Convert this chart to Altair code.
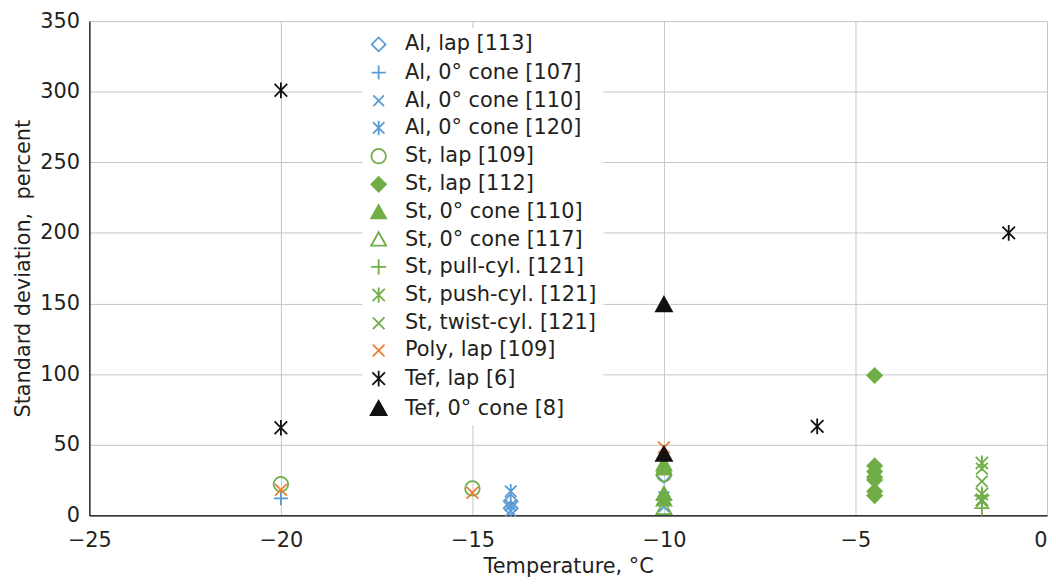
import altair as alt
import pandas as pd

series_names = [
    "Al, lap [113]", "Al, 0° cone [107]", "Al, 0° cone [110]", "Al, 0° cone [120]",
    "St, lap [109]", "St, lap [112]", "St, 0° cone [110]", "St, 0° cone [117]",
    "St, pull-cyl. [121]", "St, push-cyl. [121]", "St, twist-cyl. [121]",
    "Poly, lap [109]", "Tef, lap [6]", "Tef, 0° cone [8]",
]

al_lap_113_t = [-14, -14, -10]
al_lap_113_v = [10, 5, 28]
al_cone_107_t = [-20]
al_cone_107_v = [12]
al_cone_110_t = [-14, -10, -10]
al_cone_110_v = [3, 13, 6]
al_cone_120_t = [-14, -14]
al_cone_120_v = [17, 7]
st_lap_109_t = [-20, -15, -10]
st_lap_109_v = [22, 19, 29]
st_lap_112_t = [-4.5, -4.5, -4.5, -4.5, -4.5, -4.5, -4.5]
st_lap_112_v = [99, 35, 31, 27, 25, 17, 14]
st_cone_110_t = [-10, -10, -10, -10]
st_cone_110_v = [36, 33, 15, 11]
st_cone_117_t = [-10]
st_cone_117_v = [5]
st_pull_t = [-1.7, -1.7]
st_pull_v = [14, 5]
st_push_t = [-1.7, -1.7, -1.7]
st_push_v = [37, 15, 11]
st_twist_t = [-1.7, -1.7, -1.7]
st_twist_v = [33, 24, 10]
poly_lap_t = [-20, -15, -10]
poly_lap_v = [18, 16, 48]
tef_lap_t = [-20, -20, -6, -1]
tef_lap_v = [301, 62, 63, 200]
tef_cone_t = [-10, -10]
tef_cone_v = [149, 43]

all_t = [al_lap_113_t, al_cone_107_t, al_cone_110_t, al_cone_120_t, st_lap_109_t,
         st_lap_112_t, st_cone_110_t, st_cone_117_t, st_pull_t, st_push_t, st_twist_t,
         poly_lap_t, tef_lap_t, tef_cone_t]
all_v = [al_lap_113_v, al_cone_107_v, al_cone_110_v, al_cone_120_v, st_lap_109_v,
         st_lap_112_v, st_cone_110_v, st_cone_117_v, st_pull_v, st_push_v, st_twist_v,
         poly_lap_v, tef_lap_v, tef_cone_v]

rows = []
for name, ts, vs in zip(series_names, all_t, all_v):
    for t, v in zip(ts, vs):
        rows.append({"series": name, "temp": t, "sd": v})
df = pd.DataFrame(rows)

BLUE = "#5b9bd5"
GREEN = "#70ad47"
ORANGE = "#ed7d31"
BLACK = "#111111"

DIAMOND = "M-1,0L0,-1L1,0L0,1Z"
PLUS = "M-1,0L1,0M0,-1L0,1"
XS = "M-0.75,-0.75L0.75,0.75M-0.75,0.75L0.75,-0.75"
AST = "M-0.8,-0.8L0.8,0.8M-0.8,0.8L0.8,-0.8M0,-1L0,1"
TRI = "M0,-1L1,0.8L-1,0.8Z"

shapes = [DIAMOND, PLUS, XS, AST, "circle", DIAMOND, TRI, TRI, PLUS, AST, XS, XS, AST, TRI]
strokes = [BLUE, BLUE, BLUE, BLUE, GREEN, GREEN, GREEN, GREEN, GREEN, GREEN, GREEN, ORANGE, BLACK, BLACK]
fills = ["transparent"] * 5 + [GREEN, GREEN] + ["transparent"] * 6 + [BLACK]
sizes = [196, 256, 400, 289, 169, 196, 196, 196, 256, 289, 400, 400, 289, 196]

FONT = "DejaVu Sans"
TXT = "#231f20"
FS = 21

chart = alt.Chart(df).mark_point(opacity=1, strokeWidth=1.8).encode(
    x=alt.X("temp:Q", title="Temperature, °C",
            scale=alt.Scale(domain=[-25, 0], nice=False, zero=False),
            axis=alt.Axis(values=[-25, -20, -15, -10, -5, 0], labelPadding=14,
                          labelAlign=alt.expr("datum.value == 0 ? 'right' : 'center'"))),
    y=alt.Y("sd:Q", title="Standard deviation,\u00a0 percent",
            scale=alt.Scale(domain=[0, 350], nice=False),
            axis=alt.Axis(values=[0, 50, 100, 150, 200, 250, 300, 350], labelPadding=10)),
    shape=alt.Shape("series:N", sort=series_names, title=None,
                    scale=alt.Scale(domain=series_names, range=shapes)),
    stroke=alt.Stroke("series:N", sort=series_names, title=None,
                      scale=alt.Scale(domain=series_names, range=strokes)),
    fill=alt.Fill("series:N", sort=series_names, title=None,
                  scale=alt.Scale(domain=series_names, range=fills)),
    size=alt.Size("series:N", sort=series_names, title=None,
                  scale=alt.Scale(domain=series_names, range=sizes)),
).properties(
    width=965, height=498,
    autosize=alt.AutoSizeParams(type="none"),
    padding={"left": 82, "top": 11, "right": 1, "bottom": 60},
).configure_view(
    stroke=None
).configure_axis(
    domainColor="black", domainWidth=1.2, gridColor="#c6c6c6", gridWidth=1,
    ticks=False, labelFontSize=FS, titleFontSize=FS, labelFont=FONT, titleFont=FONT,
    labelColor=TXT, titleColor=TXT, titleFontWeight="normal",
).configure_axisX(
    titlePadding=6
).configure_axisY(
    titlePadding=6
).configure_legend(
    orient="none", legendX=275, legendY=7, fillColor="white", padding=6,
    labelFontSize=FS, labelFont=FONT, labelColor=TXT, rowPadding=5.4,
    symbolStrokeWidth=1.8, symbolOpacity=1, labelOffset=16, labelLimit=400,
)

chart.save("out.html", embed_options={"renderer": "svg", "actions": False})
